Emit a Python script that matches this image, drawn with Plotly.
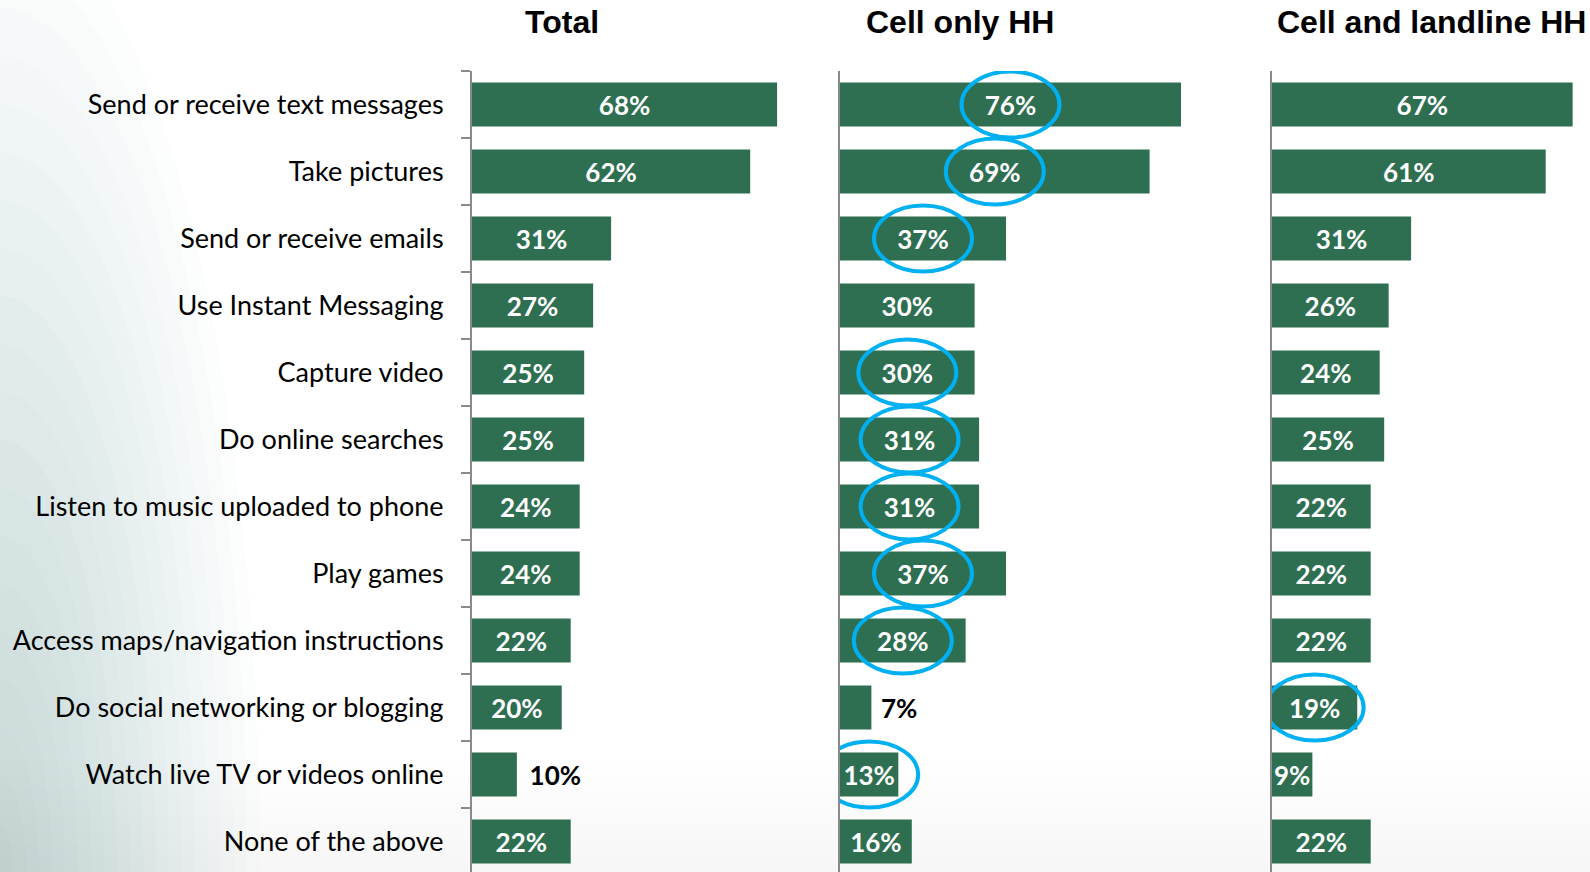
"""Cell phone activities by household type - horizontal bar panels."""

import plotly.graph_objects as go

# ---- data -----------------------------------------------------------------
categories = [
    "Send or receive text messages",
    "Take pictures",
    "Send or receive emails",
    "Use Instant Messaging",
    "Capture video",
    "Do online searches",
    "Listen to music uploaded to phone",
    "Play games",
    "Access maps/navigation instructions",
    "Do social networking or blogging",
    "Watch live TV or videos online",
    "None of the above",
]
panel_titles = ["Total", "Cell only HH", "Cell and landline HH"]
total = [68, 62, 31, 27, 25, 25, 24, 24, 22, 20, 10, 22]
cell_only = [76, 69, 37, 30, 30, 31, 31, 37, 28, 7, 13, 16]
cell_landline = [67, 61, 31, 26, 24, 25, 22, 22, 22, 19, 9, 22]

# rows whose label sits outside the bar (per panel)
outside_rows = [[10], [9], []]
# rows highlighted with a blue ring (per panel)
circled_rows = [[], [0, 1, 2, 4, 5, 6, 7, 8, 10], [9]]

# ---- styling --------------------------------------------------------------
W, H = 1590, 872
TOP = 71
BAR_COLOR = "#2e6f52"
AXIS_COLOR = "#8a8a8a"
RING_COLOR = "#00b0f0"
PX_PER_PCT = 4.487

# left edge pixel of each panel axis and its visible x-range
panel_left = [472, 840, 1272]
panel_xmax = [78, 78, 70]

series = [total, cell_only, cell_landline]

fig = go.Figure()

for i, vals in enumerate(series):
    sfx = "" if i == 0 else str(i + 1)
    positions = ["outside" if r in outside_rows[i] else "inside" for r in range(len(vals))]
    colors = ["black" if r in outside_rows[i] else "white" for r in range(len(vals))]
    pad = "\u2009\u2009\u2009" if i == 0 else "\u2009\u2009"
    labels = [
        (pad if r in outside_rows[i] else "") + f"{v}%"
        for r, v in enumerate(vals)
    ]
    fig.add_trace(
        go.Bar(
            x=vals,
            y=categories,
            orientation="h",
            marker=dict(color=BAR_COLOR, line=dict(width=0)),
            text=labels,
            textposition=positions,
            insidetextanchor="middle",
            textangle=0,
            constraintext="none",
            cliponaxis=False,
            textfont=dict(family="Lato", size=26, color=colors, weight="bold"),
            xaxis="x" + sfx,
            yaxis="y" + sfx,
            showlegend=False,
            hoverinfo="skip",
        )
    )

layout_axes = {}
for i in range(3):
    sfx = "" if i == 0 else str(i + 1)
    x0 = panel_left[i] / W
    x1 = (panel_left[i] + panel_xmax[i] * PX_PER_PCT) / W
    layout_axes["xaxis" + sfx] = dict(
        domain=[x0, min(x1, 1)],
        range=[0, panel_xmax[i]],
        visible=False,
        anchor="y" + sfx,
        fixedrange=True,
    )
    layout_axes["yaxis" + sfx] = dict(
        domain=[0, 1],
        anchor="x" + sfx,
        type="category",
        categoryorder="array",
        categoryarray=categories,
        range=[11.455, -0.5],
        showline=True,
        linecolor=AXIS_COLOR,
        linewidth=2,
        showgrid=False,
        zeroline=False,
        ticks="outside" if i == 0 else "",
        tickson="boundaries",
        ticklen=9,
        tickwidth=2,
        tickcolor=AXIS_COLOR,
        showticklabels=(i == 0),
        ticklabelstandoff=21,
        tickfont=dict(family="Lato", size=27, color="black"),
        automargin=False,
        fixedrange=True,
    )

# ---- background wash (soft green-grey glow from the bottom-left corner) ---
PH = H - TOP
shapes = []
for k in range(1, 21):
    a = 13 * k / W
    b = 48 * k / PH
    shapes.append(
        dict(
            type="circle",
            xref="paper",
            yref="paper",
            x0=-a,
            x1=a,
            y0=-b,
            y1=b,
            fillcolor="rgba(140,170,155,0.024)",
            line=dict(width=0),
            layer="below",
        )
    )
for k in range(1, 9):
    shapes.append(
        dict(
            type="rect",
            xref="paper",
            yref="paper",
            x0=0,
            x1=1,
            y0=0,
            y1=k * 14 / PH,
            fillcolor="rgba(160,180,170,0.008)",
            line=dict(width=0),
            layer="below",
        )
    )

# ---- blue rings around highlighted labels ---------------------------------
for i, rows in enumerate(circled_rows):
    sfx = "" if i == 0 else str(i + 1)
    for r in rows:
        shapes.append(
            dict(
                type="circle",
                xref="x" + sfx,
                yref="y" + sfx,
                xsizemode="pixel",
                ysizemode="pixel",
                xanchor=series[i][r] / 2,
                yanchor=r,
                x0=-49,
                x1=49,
                y0=-33,
                y1=33,
                line=dict(color=RING_COLOR, width=4),
                layer="above",
            )
        )

# ---- panel titles ---------------------------------------------------------
title_x = [562, 960, 1431]
annotations = [
    dict(
        text=t,
        x=cx / W,
        y=1 + (TOP - 22) / PH,
        xref="paper",
        yref="paper",
        xanchor="center",
        yanchor="middle",
        showarrow=False,
        font=dict(family="Liberation Sans, Arial", size=32, color="black", weight="bold"),
    )
    for t, cx in zip(panel_titles, title_x)
]

fig.update_layout(
    width=W,
    height=H,
    margin=dict(l=0, r=0, t=TOP, b=0),
    paper_bgcolor="white",
    plot_bgcolor="rgba(0,0,0,0)",
    bargap=0.343,
    shapes=shapes,
    annotations=annotations,
    showlegend=False,
    **layout_axes,
)

fig.write_html(
    "out.html",
    config={"displayModeBar": False},
    post_script="document.body.style.margin='0';document.body.style.overflow='hidden';",
)
